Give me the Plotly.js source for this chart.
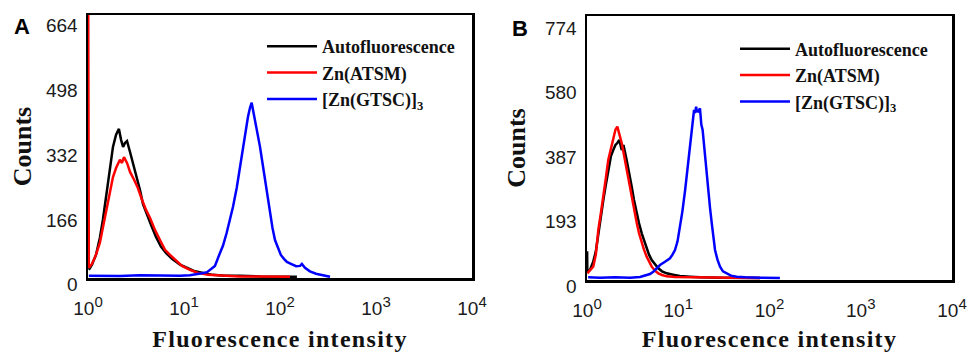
<!DOCTYPE html>
<html>
<head>
<meta charset="utf-8">
<script src="https://cdn.plot.ly/plotly-3.0.1.min.js"></script>
<style>
html,body{margin:0;padding:0;background:#fff;}
#chart{width:973px;height:352px;}
#chart .g-xtitle text, #chart .g-x2title text{letter-spacing:1.3px;}
</style>
</head>
<body>
<div id="chart"></div>
<script>
// ---------- data ----------
var seriesNames = ['Autofluorescence', 'Zn(ATSM)', '[Zn(GTSC)]<sub>3</sub>'];
var seriesColors = ['#000000', '#ff0000', '#0000ff'];

var xTickVals = [1, 10, 100, 1000, 10000];
var xTickExp = ['0', '1', '2', '3', '4'];
var yTicksA = [0, 166, 332, 498, 664];
var yTicksB = [0, 193, 387, 580, 774];

// Panel A
var aAutoX = [1.02,1.10,1.21,1.33,1.43,1.58,1.70,1.82,1.96,2.10,2.21,2.32,2.43,2.55,2.74,2.94,3.16,3.48,3.74,4.12,4.53,5.11,5.75,6.49,7.50,9.09,10.7,12.7,15.8,20.0,26.7,38.3,62,100,150];
var aAutoY = [18,31,56,100,146,222,286,332,363,378,350,332,342,347,319,291,258,222,186,158,133,102,77,61,46,31,23,15,10,5,3,3,1,1,0];
var aAtsmX = [1.005,1.02,1.10,1.21,1.33,1.43,1.58,1.70,1.82,1.96,2.15,2.26,2.37,2.55,2.74,3.02,3.31,3.65,4.02,4.42,4.98,5.62,6.34,7.15,8.25,9.53,11.5,13.9,17.8,23.7,38,62,127];
var aAtsmY = [700,23,33,56,87,128,184,222,255,278,299,291,306,291,268,248,227,197,171,151,120,94,69,56,41,28,18,10,5,3,1,1,0];
var aGtscX = [1.02,1.33,2.15,3.48,5.62,9.09,11.5,13.7,15.4,17.4,19.1,21.0,23.7,25.5,27.8,30.1,32.4,35.4,38.3,41.2,43.2,46.4,48.7,50.7,52.3,54.9,58.3,61.9,65.7,69.8,74.1,78.7,83.5,88.7,95.3,102,110,118,130,147,162,169,182,205,237,281,332];
var aGtscY = [3,2,2,4,3,3,4,6,9,12,19,28,61,80,112,146,179,227,281,329,358,409,432,445,427,401,368,332,291,248,204,163,125,94,72,56,46,38,33,27,28,33,23,14,8,4,0];

// Panel B
var bAutoX = [1.003,1.008,1.08,1.17,1.25,1.33,1.42,1.51,1.61,1.71,1.83,1.94,2.05,2.15,2.26,2.40,2.51,2.72,2.89,3.09,3.27,3.51,3.71,3.98,4.21,4.51,4.78,5.12,5.56,6.04,6.64,7.47,8.76,10.4,13.5,17.3,28.7,47.3,78.7];
var bAutoY = [80,19,25,49,80,134,186,234,280,324,366,384,399,405,414,384,399,354,320,274,235,194,165,134,112,89,70,54,40,29,20,14,10,6,4,2,1,1,0];
var bAtsmX = [1.008,1.08,1.17,1.25,1.33,1.42,1.51,1.61,1.71,1.83,1.94,2.05,2.15,2.27,2.40,2.54,2.72,2.89,3.09,3.27,3.51,3.71,3.98,4.21,4.51,4.78,5.12,5.56,6.04,6.64,7.47,9.21,13.5,22.3,36.9,78.7];
var bAtsmY = [14,25,34,70,144,195,255,300,354,390,424,445,454,430,405,370,324,290,244,210,165,135,105,85,64,48,34,22,14,9,5,3,2,1,1,0];
var bGtscX = [1.03,1.39,2.03,2.96,3.81,4.51,4.90,5.33,5.80,6.31,7.16,8.12,8.65,9.21,9.82,10.45,11.1,11.9,12.4,12.9,13.5,14.0,14.5,14.9,15.3,15.7,16.0,16.6,17.3,17.9,18.5,19.1,19.6,20.5,21.3,22.3,23.3,24.2,25.3,26.9,28.7,30.9,34.0,37.8,43.7,53.9,78.7,130];
var bGtscY = [2,1,2,1,3,9,12,19,30,39,49,59,70,84,110,154,200,264,310,364,400,444,490,504,495,514,500,499,509,460,444,400,364,320,264,210,164,124,84,55,34,20,14,7,4,2,1,0];

// ---------- traces ----------
function tr(x, y, i, xa, ya, leg) {
  return {
    type: 'scatter', mode: 'lines', x: x, y: y,
    name: seriesNames[i], xaxis: xa, yaxis: ya, legend: leg,
    line: {color: seriesColors[i], width: 2.5},
    hoverinfo: 'skip'
  };
}
var data = [
  tr(aAutoX, aAutoY, 0, 'x', 'y', 'legend'),
  tr(aAtsmX, aAtsmY, 1, 'x', 'y', 'legend'),
  tr(aGtscX, aGtscY, 2, 'x', 'y', 'legend'),
  tr(bAutoX, bAutoY, 0, 'x2', 'y2', 'legend2'),
  tr(bAtsmX, bAtsmY, 1, 'x2', 'y2', 'legend2'),
  tr(bGtscX, bGtscY, 2, 'x2', 'y2', 'legend2')
];

var sans = 'Arial, "Liberation Sans", sans-serif';
var serif = '"Times New Roman", "Liberation Serif", serif';
var xTickText = xTickExp.map(function (e) {
  return '10<sup><span style="font-size:15px">' + e + '</span></sup>';
});

function xAxis(dom, anchor) {
  return {
    type: 'log', domain: dom, anchor: anchor, range: [0, 4],
    tickmode: 'array', tickvals: xTickVals, ticktext: xTickText,
    ticks: '', showgrid: false, zeroline: false,
    showline: true, mirror: true, linecolor: '#000', linewidth: 2.5,
    ticklabelstandoff: 12,
    tickfont: {family: sans, size: 19, color: '#1a1a1a'},
    title: {text: 'Fluorescence intensity', standoff: 13,
            font: {family: serif, size: 24, weight: 'bold', color: '#111'}},
    fixedrange: true
  };
}
function yAxis(dom, anchor, range, ticks, standoff) {
  return {
    domain: dom, anchor: anchor, range: range,
    tickmode: 'array', tickvals: ticks,
    ticks: '', showgrid: false, zeroline: false,
    showline: true, mirror: true, linecolor: '#000', linewidth: 2.5,
    layer: 'below traces',
    ticklabelshift: 8, ticklabelstandoff: 4,
    tickfont: {family: sans, size: 19, color: '#1a1a1a'},
    title: {text: 'Counts', standoff: standoff,
            font: {family: serif, size: 26, weight: 'bold', color: '#111'}},
    fixedrange: true
  };
}
function legendCfg(x, y) {
  return {
    x: x, y: y, xanchor: 'left', yanchor: 'top',
    bgcolor: 'rgba(0,0,0,0)', borderwidth: 0,
    font: {family: serif, size: 18, weight: 'bold', color: '#111'},
    itemwidth: 50
  };
}

var layout = {
  width: 973, height: 352,
  margin: {l: 0, r: 0, t: 0, b: 0},
  paper_bgcolor: '#fff', plot_bgcolor: '#fff',
  showlegend: true,
  xaxis: xAxis([88/973, 472/973], 'y'),
  yaxis: yAxis([1 - 278/352, 1 - 15/352], 'x', [-3, 669], yTicksA, 7),
  xaxis2: xAxis([587/973, 952/973], 'y2'),
  yaxis2: yAxis([1 - 280/352, 1 - 16/352], 'x2', [-6, 786], yTicksB, 12),
  legend: legendCfg(262/973, 1 - 28/352),
  legend2: legendCfg(735/973, 1 - 30.5/352),
  annotations: [
    {text: 'A', xref: 'paper', yref: 'paper', x: 22/973, y: 1 - 27/352,
     xanchor: 'center', yanchor: 'middle', showarrow: false,
     font: {family: sans, size: 22, weight: 'bold', color: '#000'}},
    {text: 'B', xref: 'paper', yref: 'paper', x: 520/973, y: 1 - 28/352,
     xanchor: 'center', yanchor: 'middle', showarrow: false,
     font: {family: sans, size: 22, weight: 'bold', color: '#000'}}
  ]
};

Plotly.newPlot('chart', data, layout, {staticPlot: true, displayModeBar: false});
</script>
</body>
</html>
